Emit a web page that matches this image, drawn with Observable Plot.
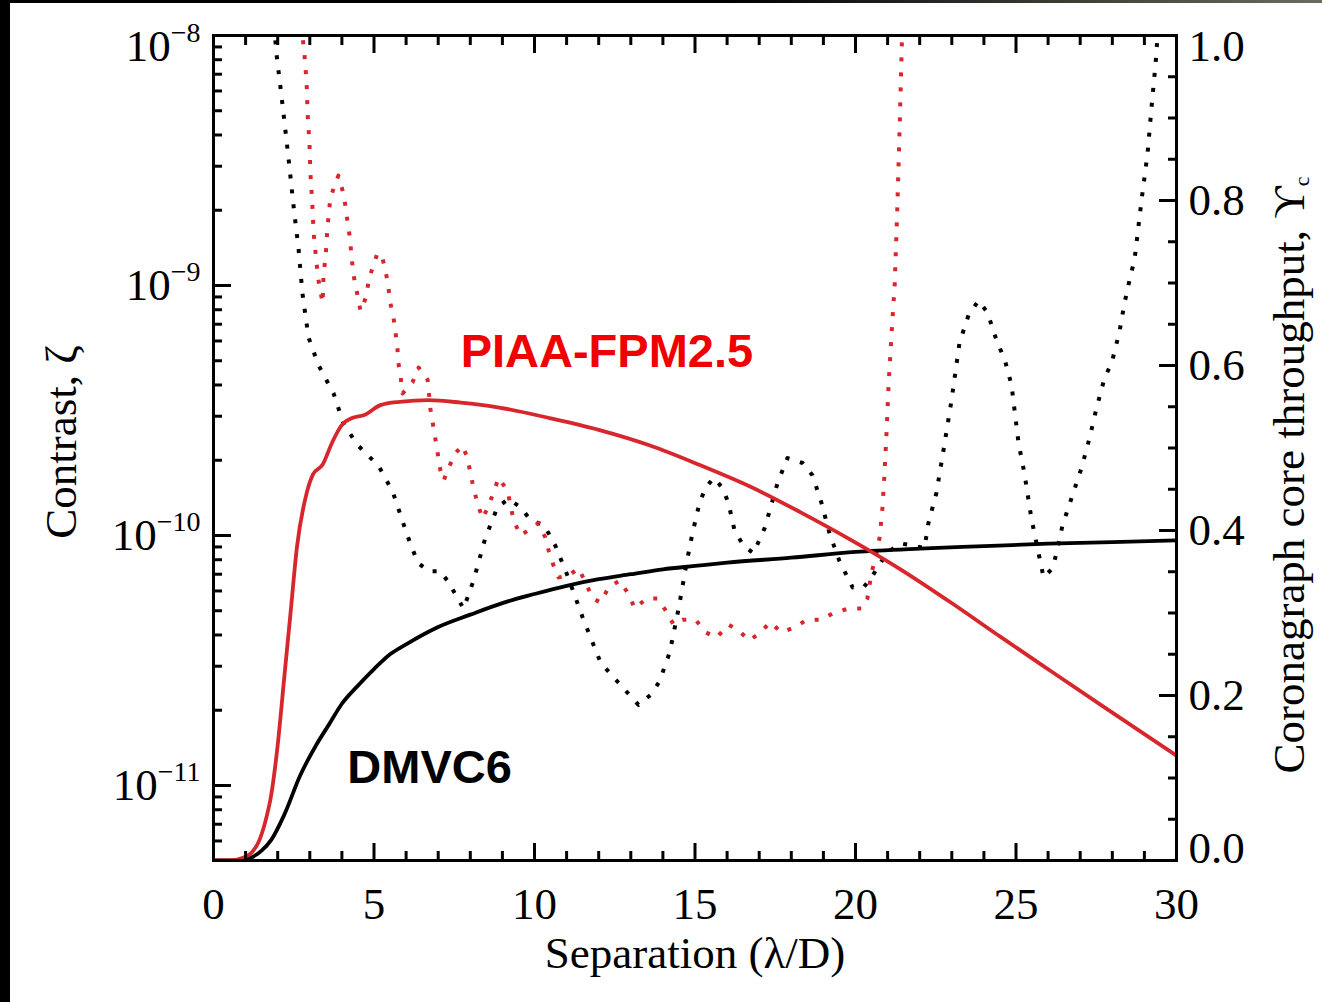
<!DOCTYPE html>
<html><head><meta charset="utf-8">
<script src="https://cdn.jsdelivr.net/npm/d3@7"></script>
<script src="https://cdn.jsdelivr.net/npm/@observablehq/plot@0.6"></script>
<style>
html,body{margin:0;padding:0;background:#000;width:1322px;height:1002px;overflow:hidden;}
#topbar{position:absolute;left:0;top:0;width:1322px;height:3px;background:linear-gradient(to right,#000 0%,#000 55%,#6b6b60 100%);}
#chart{position:absolute;left:10px;top:3px;width:1312px;height:999px;background:#fff;}
</style></head><body><div id="topbar"></div><div id="chart"></div>
<script>
// ---------- data ----------
// Core throughput (right axis) — solid curves
const dmvcSep = [0, 0.5, 0.9, 1.2, 1.5, 1.8, 2.2, 2.7, 3.2, 3.6, 4.0, 4.5, 5.0, 5.5, 6, 7, 8, 9, 10, 11, 12, 13, 14, 15, 16, 18, 20, 22, 24, 26, 28, 30];
const dmvcThroughput = [0, 0, 0.0, 0.004, 0.012, 0.025, 0.055, 0.103, 0.14, 0.165, 0.19, 0.212, 0.232, 0.25, 0.262, 0.283, 0.298, 0.312, 0.323, 0.333, 0.341, 0.347, 0.353, 0.357, 0.361, 0.367, 0.374, 0.378, 0.381, 0.384, 0.386, 0.388];

const piaaSep = [0, 0.5, 0.9, 1.2, 1.4, 1.6, 1.8, 2.0, 2.2, 2.4, 2.6, 2.9, 3.1, 3.4, 3.7, 4.0, 4.3, 4.7, 5.2, 5.8, 6.7, 7.7, 8.9, 10.5, 12, 13.6, 15.17, 16.73, 18.29, 19.84, 21.4, 22.96, 24.52, 26.07, 27.63, 30];
const piaaThroughput = [0, 0, 0.003, 0.01, 0.022, 0.045, 0.08, 0.14, 0.22, 0.30, 0.38, 0.445, 0.468, 0.48, 0.507, 0.528, 0.536, 0.54, 0.552, 0.556, 0.558, 0.555, 0.549, 0.536, 0.522, 0.503, 0.479, 0.453, 0.422, 0.389, 0.353, 0.313, 0.271, 0.230, 0.189, 0.127];

// Contrast (left axis) — dotted curves
const dmvcContrastSep = [1.85, 1.96, 2.18, 2.34, 2.49, 2.65, 2.77, 2.96, 3.27, 3.74, 4.05, 4.49, 5.14, 5.58, 6.04, 6.36, 6.70, 7.07, 7.32, 7.79, 8.10, 8.47, 8.85, 9.19, 9.56, 9.88, 10.3, 10.65, 11.03, 11.50, 12.06, 12.59, 13.24, 13.61, 13.89, 14.21, 14.49, 14.74, 14.92, 15.14, 15.33, 15.58, 15.86, 16.04, 16.23, 16.51, 16.82, 17.17, 17.57, 17.88, 18.35, 18.66, 18.94, 19.19, 19.50, 19.91, 20.25, 20.50, 20.97, 21.40, 21.81, 22.15, 22.27, 22.52, 22.74, 22.99, 23.24, 23.52, 23.83, 24.11, 24.42, 24.64, 24.86, 25.08, 25.26, 25.48, 25.67, 25.86, 26.14, 26.26, 26.45, 26.73, 27.04, 27.29, 27.51, 27.76, 27.98, 28.22, 28.38, 28.57, 28.69, 28.91, 29.10, 29.22, 29.35, 29.41, 29.45];
const dmvcContrast = [1.26e-8, 8.5e-9, 4.9e-9, 3.2e-9, 2.1e-9, 1.4e-9, 9.3e-10, 6.2e-10, 4.8e-10, 3.7e-10, 2.8e-10, 2.3e-10, 1.9e-10, 1.5e-10, 1.0e-10, 7.8e-11, 7.2e-11, 7.2e-11, 6.5e-11, 5.1e-11, 6.6e-11, 9.8e-11, 1.3e-10, 1.4e-10, 1.3e-10, 1.15e-10, 1.1e-10, 9.1e-11, 6.9e-11, 4.7e-11, 3.1e-11, 2.6e-11, 2.1e-11, 2.3e-11, 2.6e-11, 3.4e-11, 5.1e-11, 7.8e-11, 1.02e-10, 1.35e-10, 1.55e-10, 1.70e-10, 1.55e-10, 1.35e-10, 1.05e-10, 9.1e-11, 8.5e-11, 1.07e-10, 1.62e-10, 2.04e-10, 1.95e-10, 1.74e-10, 1.35e-10, 1.02e-10, 7.9e-11, 6.2e-11, 6.2e-11, 6.8e-11, 8.5e-11, 9.3e-11, 9.1e-11, 8.9e-11, 1.12e-10, 1.48e-10, 2.19e-10, 3.47e-10, 5.9e-10, 7.6e-10, 8.7e-10, 7.8e-10, 5.9e-10, 5.1e-10, 4.0e-10, 2.34e-10, 1.78e-10, 1.17e-10, 8.9e-11, 6.8e-11, 7.4e-11, 8.5e-11, 1.10e-10, 1.41e-10, 1.86e-10, 2.45e-10, 3.24e-10, 4.27e-10, 4.9e-10, 6.5e-10, 8.5e-10, 1.10e-9, 1.26e-9, 2.19e-9, 3.39e-9, 5.13e-9, 7.76e-9, 1.0e-8, 1.26e-8];

const piaaContrastSep = [2.70, 2.77, 2.83, 2.90, 2.93, 2.99, 3.02, 3.08, 3.12, 3.21, 3.27, 3.40, 3.43, 3.49, 3.55, 3.64, 3.80, 3.89, 4.02, 4.11, 4.17, 4.24, 4.33, 4.39, 4.49, 4.58, 4.77, 4.83, 4.95, 5.11, 5.26, 5.36, 5.45, 5.51, 5.61, 5.67, 5.73, 5.76, 5.83, 5.89, 6.20, 6.39, 6.67, 6.76, 6.92, 7.07, 7.17, 7.32, 7.54, 7.76, 7.91, 8.10, 8.22, 8.38, 8.54, 8.72, 8.88, 9.16, 9.35, 9.56, 9.81, 10.12, 10.34, 10.44, 10.59, 10.75, 11.06, 11.37, 11.59, 11.81, 12.06, 12.31, 12.65, 12.96, 13.12, 13.49, 13.83, 14.14, 14.33, 14.61, 15.02, 15.33, 15.67, 16.04, 16.32, 16.70, 17.04, 17.35, 17.69, 18.13, 18.47, 18.94, 19.31, 19.78, 20.19, 20.37, 20.50, 20.62, 20.75, 20.84, 20.90, 20.97, 21.03, 21.12, 21.22, 21.30, 21.38, 21.45, 21.48];
const piaaContrast = [1.26e-8, 1.0e-8, 8.5e-9, 6.5e-9, 4.9e-9, 3.7e-9, 2.8e-9, 2.1e-9, 1.62e-9, 1.23e-9, 1.05e-9, 8.5e-10, 1.12e-9, 1.29e-9, 1.70e-9, 2.24e-9, 2.57e-9, 2.75e-9, 2.40e-9, 2.09e-9, 1.82e-9, 1.58e-9, 1.20e-9, 1.05e-9, 9.1e-10, 7.9e-10, 9.1e-10, 1.05e-9, 1.17e-9, 1.35e-9, 1.29e-9, 1.15e-9, 9.8e-10, 8.5e-10, 7.4e-10, 6.5e-10, 5.6e-10, 4.9e-10, 4.3e-10, 3.7e-10, 4.1e-10, 4.7e-10, 4.2e-10, 3.2e-10, 2.4e-10, 1.82e-10, 1.66e-10, 1.86e-10, 2.14e-10, 2.29e-10, 2.04e-10, 1.55e-10, 1.35e-10, 1.17e-10, 1.29e-10, 1.48e-10, 1.70e-10, 1.51e-10, 1.15e-10, 1.0e-10, 1.05e-10, 1.12e-10, 9.8e-11, 8.7e-11, 7.6e-11, 6.8e-11, 6.9e-11, 7.4e-11, 6.5e-11, 5.6e-11, 5.4e-11, 6.2e-11, 6.6e-11, 5.75e-11, 5.1e-11, 5.6e-11, 5.6e-11, 4.9e-11, 4.4e-11, 4.6e-11, 4.6e-11, 4.1e-11, 3.9e-11, 4.4e-11, 4.2e-11, 3.8e-11, 4.1e-11, 4.5e-11, 4.1e-11, 4.3e-11, 4.6e-11, 4.6e-11, 4.9e-11, 5.1e-11, 5.1e-11, 5.6e-11, 7.1e-11, 8.1e-11, 9.8e-11, 1.29e-10, 1.74e-10, 2.63e-10, 4.0e-10, 6.3e-10, 1.0e-9, 2.0e-9, 4.5e-9, 1.0e-8, 1.26e-8];

// Axis ticks / labels
const xMajorTicks = [0, 5, 10, 15, 20, 25, 30];
const contrastMajorTicks = [1e-8, 1e-9, 1e-10, 1e-11];
const throughputMajorTicks = [0.0, 0.2, 0.4, 0.6, 0.8, 1.0];
const throughputTickLabels = ["0.0", "0.2", "0.4", "0.6", "0.8", "1.0"];
const contrastDomain = [10 ** -11.3, 1e-8];

// Annotations
const labelTexts = ["PIAA-FPM2.5", "DMVC6"];
const labelSep = [7.7, 4.17];
const labelContrast = [5.4e-10, 1.18e-11];
const labelColors = ["#f00000", "#000000"];

// ---------- helpers ----------
const logMin = Math.log10(contrastDomain[0]), logMax = Math.log10(contrastDomain[1]);
// throughput (0..1, right axis) placed on the shared vertical scale
const tp = t => 10 ** (logMin + t * (logMax - logMin));

const xMinorTicks = d3.range(0, 31).filter(v => v % 5 !== 0);
const contrastMinorTicks = [];
for (let e = -12; e <= -9; e++) for (let k = 2; k <= 9; k++) {
  const v = k * 10 ** e;
  if (v > contrastDomain[0] && v < contrastDomain[1]) contrastMinorTicks.push(v);
}
const throughputMinorTicks = d3.range(0, 21).map(i => i / 20).filter(v => Math.abs(v * 5 - Math.round(v * 5)) > 1e-6);

const rows = (xs, ys) => xs.map((x, i) => ({x, y: ys[i]}));
const dmvcT = rows(dmvcSep, dmvcThroughput);
const piaaT = rows(piaaSep, piaaThroughput);
const dmvcC = rows(dmvcContrastSep, dmvcContrast);
const piaaC = rows(piaaContrastSep, piaaContrast);
const labels = labelTexts.map((t, i) => ({t, x: labelSep[i], y: labelContrast[i], c: labelColors[i]}));

const RED = "#d7262c";
const SERIF = "'Liberation Serif', 'Times New Roman', serif";
const FS = 45;
const TW = 3;

const tickAxis = (fn, values, anchor, size) => fn(values, {anchor, tickSize: -size, fill: "none", strokeWidth: TW, label: null});

const fmtPow = d => "10^" + Math.round(Math.log10(d));
const fmtT = d => {
  const t = (Math.log10(d) - logMin) / (logMax - logMin);
  const i = throughputMajorTicks.findIndex(v => Math.abs(v - t) < 1e-6);
  return throughputTickLabels[i];
};

const plot = Plot.plot({
  width: 1312,
  height: 999,
  marginLeft: 203,
  marginRight: 146,
  marginTop: 32,
  marginBottom: 142,
  style: {fontFamily: SERIF, color: "#000", background: "#fff"},
  x: {domain: [0, 30], axis: null},
  y: {type: "log", domain: contrastDomain, axis: null},
  marks: [
    // dotted contrast curves
    Plot.line(dmvcC, {x: "x", y: "y", stroke: "#000", strokeWidth: 4, strokeDasharray: "4 11", strokeLinecap: "butt", clip: true}),
    Plot.line(piaaC, {x: "x", y: "y", stroke: RED, strokeWidth: 4, strokeDasharray: "4 11", strokeLinecap: "butt", clip: true}),
    // solid throughput curves
    Plot.line(dmvcT, {x: "x", y: d => tp(d.y), stroke: "#000", strokeWidth: 3.8, curve: "monotone-x", clip: true}),
    Plot.line(piaaT, {x: "x", y: d => tp(d.y), stroke: RED, strokeWidth: 3.8, curve: "monotone-x", clip: true}),
    // frame
    Plot.frame({stroke: "#000", strokeWidth: TW}),
    // inward ticks
    tickAxis(Plot.axisX, xMajorTicks, "bottom", 17),
    tickAxis(Plot.axisX, xMinorTicks, "bottom", 9),
    tickAxis(Plot.axisX, xMajorTicks, "top", 17),
    tickAxis(Plot.axisX, xMinorTicks, "top", 9),
    tickAxis(Plot.axisY, contrastMajorTicks, "left", 18),
    tickAxis(Plot.axisY, contrastMinorTicks, "left", 9),
    tickAxis(Plot.axisY, throughputMajorTicks.map(tp), "right", 18),
    tickAxis(Plot.axisY, throughputMinorTicks.map(tp), "right", 9),
    // tick labels
    Plot.axisX(xMajorTicks, {anchor: "bottom", tickSize: 0, tickPadding: 27, fontSize: FS, label: null, tickFormat: d => String(d)}),
    Plot.axisY(contrastMajorTicks.slice(1), {anchor: "left", tickSize: 0, tickPadding: 13, fontSize: FS, label: null, tickFormat: fmtPow}),
    Plot.axisY(contrastMajorTicks.slice(0, 1), {anchor: "left", tickSize: 0, tickPadding: 13, fontSize: FS, label: null, tickFormat: fmtPow, dy: 11}),
    Plot.axisY(throughputMajorTicks.slice(1, 5).map(tp), {anchor: "right", tickSize: 0, tickPadding: 12, fontSize: FS, label: null, tickFormat: fmtT}),
    Plot.axisY([tp(1.0)], {anchor: "right", tickSize: 0, tickPadding: 12, fontSize: FS, label: null, tickFormat: fmtT, dy: 11}),
    Plot.axisY([tp(0.0)], {anchor: "right", tickSize: 0, tickPadding: 12, fontSize: FS, label: null, tickFormat: fmtT, dy: -12}),
    // axis titles
    Plot.text(["Separation (λ/D)"], {frameAnchor: "bottom", lineAnchor: "middle", textAnchor: "middle", dy: 93, fontSize: FS, text: d => d}),
    Plot.text(["Contrast, ζ"], {frameAnchor: "left", lineAnchor: "middle", textAnchor: "middle", dx: -152, dy: -6, rotate: -90, fontSize: FS, text: d => d}),
    Plot.text(["Coronagraph core throughput, ϒ_c"], {frameAnchor: "right", lineAnchor: "middle", textAnchor: "middle", dx: 113, dy: 27, rotate: -90, fontSize: FS, text: d => d}),
    // curve labels
    Plot.text(labels, {x: "x", y: "y", text: "t", fill: "c", textAnchor: "start", fontSize: 47, fontWeight: "bold", fontFamily: "'Liberation Sans', Arial, sans-serif"})
  ]
});

// superscripts / subscripts as real text
d3.select(plot).selectAll("text").each(function () {
  const s = this.textContent;
  const sel = d3.select(this);
  let m = s.match(/^10\^(-?\d+)$/);
  if (m) {
    sel.text(null);
    sel.append("tspan").text("10");
    sel.append("tspan").attr("dy", -19).attr("font-size", 28).text(m[1].replace("-", "\u2212"));
    return;
  }
  m = s.match(/^(.*)_(.)$/);
  if (m) {
    sel.text(null);
    sel.append("tspan").text(m[1]);
    sel.append("tspan").attr("dy", 5).attr("font-size", 22).text(m[2]);
  }
});

document.getElementById("chart").appendChild(plot);
</script></body></html>
